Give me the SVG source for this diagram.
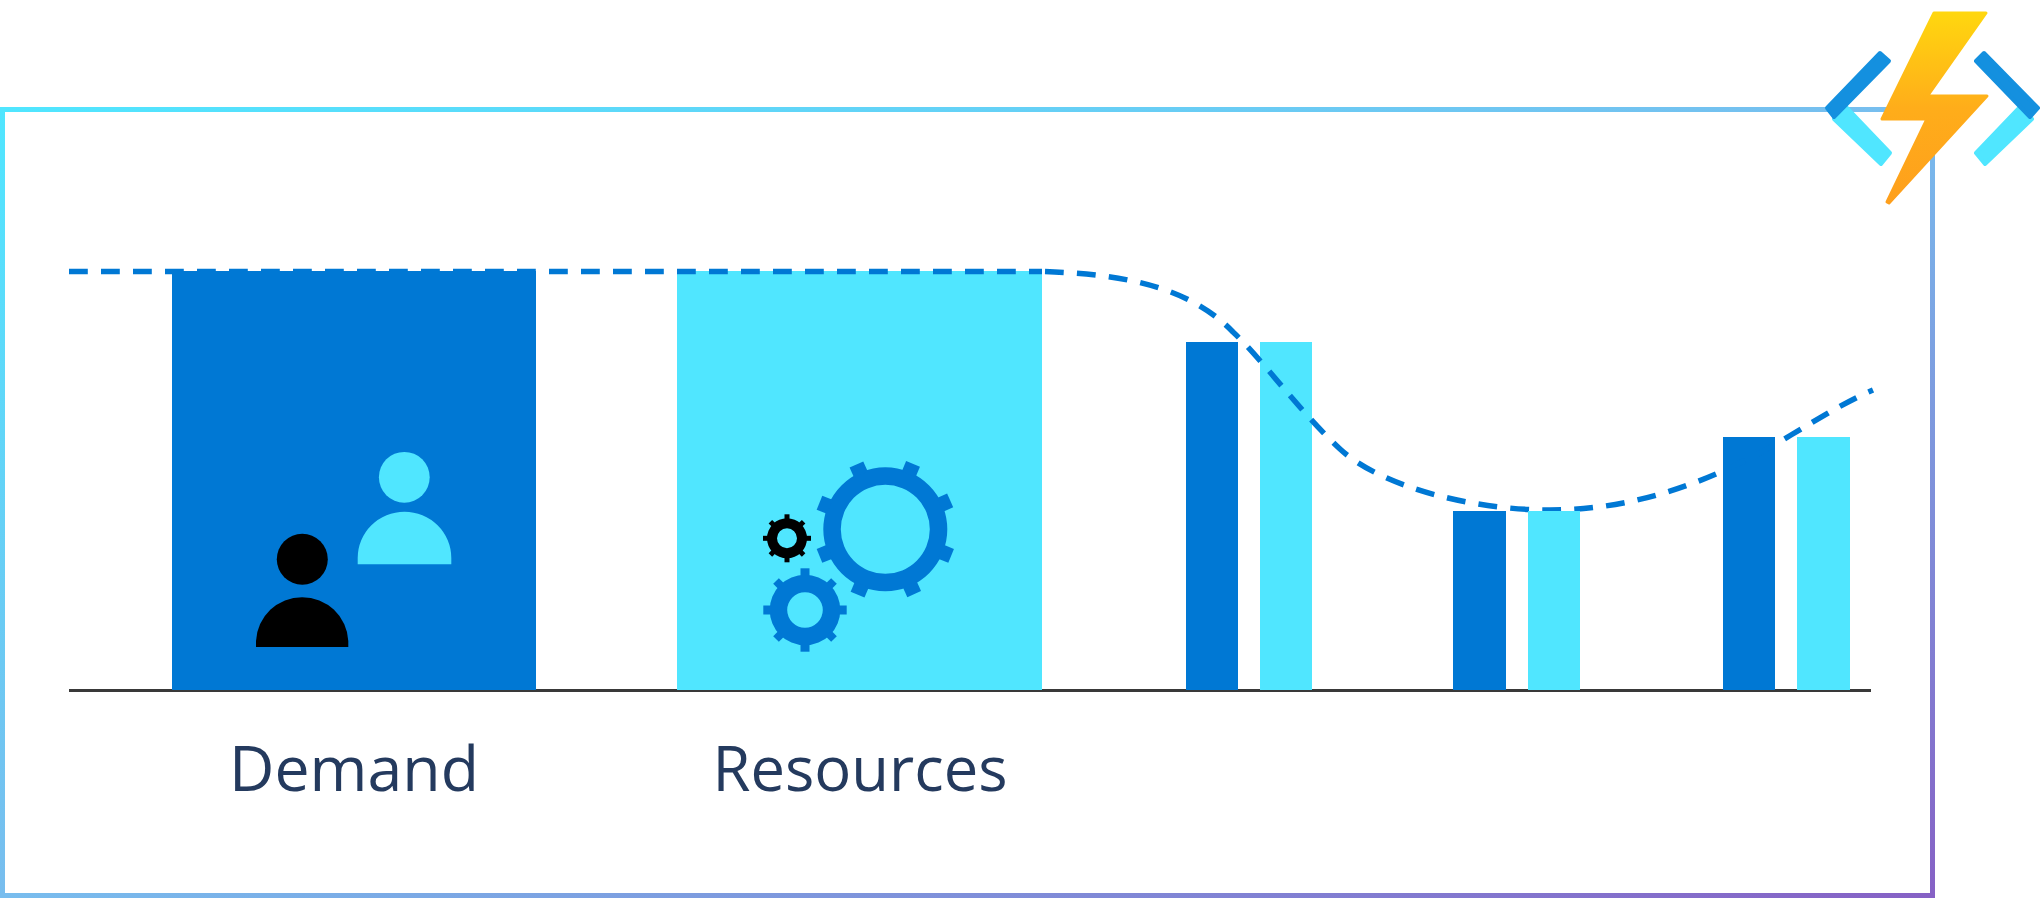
<svg xmlns="http://www.w3.org/2000/svg" width="2041" height="898" viewBox="0 0 2041 898">
<style>
.blue{fill:#0078D4}
.cyan{fill:#50E6FF}
.ring{fill:none}
.label{font-family:"Open Sans","Noto Sans","Liberation Sans",sans-serif;font-size:63px;fill:#243A5E;font-weight:400}
.dash{fill:none;stroke:#0078D4;stroke-width:5.5;stroke-dasharray:18.8 13.2}
</style>
<defs>
<linearGradient id="frameGrad" x1="0" y1="0" x2="1" y2="1">
<stop offset="0" stop-color="#50E6FF"/>
<stop offset="0.5" stop-color="#78BDEE"/>
<stop offset="1" stop-color="#8661C5"/>
</linearGradient>
<linearGradient id="boltGrad" gradientUnits="userSpaceOnUse" x1="1900" y1="12" x2="1900" y2="204">
<stop offset="0" stop-color="#FFD70F"/>
<stop offset="0.5" stop-color="#FFAD1A"/>
<stop offset="1" stop-color="#FE9F1C"/>
</linearGradient>
<g id="toothBig"><rect x="60" y="-7.5" width="11" height="15"/></g>
</defs>
<rect width="2041" height="898" fill="#fff"/>
<rect id="frame" x="2.5" y="109.5" width="1930" height="786" fill="none" stroke="url(#frameGrad)" stroke-width="5"/>
<rect id="axis" x="69" y="689" width="1802" height="3" fill="#393939"/>

<g id="demand">
<rect class="blue" x="172" y="271" width="364" height="419"/>
<g id="person-cyan" class="cyan">
<circle cx="404.3" cy="477.3" r="25.4"/>
<path d="M357.7 564.3V558A46.8 46.3 0 0 1 451.3 558V564.3Z"/>
</g>
<g id="person-black" fill="#000">
<circle cx="302.3" cy="559.3" r="25.5"/>
<path d="M256 647V641A46.2 46 0 0 1 348.3 641V647Z"/>
</g>
<text class="label" x="229" y="791" textLength="250" lengthAdjust="spacingAndGlyphs">Demand</text>
</g>

<g id="resources">
<rect class="cyan" x="677" y="271" width="365" height="419"/>
<g id="gear-large" class="blue" transform="translate(885.3 529.3)">
<path fill-rule="evenodd" d="M-62 0A62 62 0 1 1 62 0A62 62 0 1 1-62 0ZM-44.5 0A44.5 44.5 0 1 0 44.5 0A44.5 44.5 0 1 0-44.5 0Z"/>
<use href="#toothBig" transform="rotate(22)"/>
<use href="#toothBig" transform="rotate(66)"/>
<use href="#toothBig" transform="rotate(113)"/>
<use href="#toothBig" transform="rotate(158)"/>
<use href="#toothBig" transform="rotate(202)"/>
<use href="#toothBig" transform="rotate(246)"/>
<use href="#toothBig" transform="rotate(293)"/>
<use href="#toothBig" transform="rotate(336)"/>
</g>
<g id="gear-medium" class="blue" transform="translate(805 610)">
<path fill-rule="evenodd" d="M-35.3 0A35.3 35.3 0 1 1 35.3 0A35.3 35.3 0 1 1-35.3 0ZM-17.8 0A17.8 17.8 0 1 0 17.8 0A17.8 17.8 0 1 0-17.8 0Z"/>
<rect x="33" y="-4.5" width="8.7" height="9"/>
<rect x="-41.7" y="-4.5" width="8.7" height="9"/>
<rect x="-4.5" y="-41.7" width="9" height="8.7"/>
<rect x="-4.5" y="33" width="9" height="8.7"/>
<rect x="33" y="-4" width="8" height="8" transform="rotate(45)"/>
<rect x="33" y="-4" width="8" height="8" transform="rotate(135)"/>
<rect x="33" y="-4" width="8" height="8" transform="rotate(225)"/>
<rect x="33" y="-4" width="8" height="8" transform="rotate(315)"/>
</g>
<g id="gear-small" fill="#000" transform="translate(787 538.3)">
<path fill-rule="evenodd" d="M-20 0A20 20 0 1 1 20 0A20 20 0 1 1-20 0ZM-10 0A10 10 0 1 0 10 0A10 10 0 1 0-10 0Z"/>
<rect x="18" y="-2.5" width="6" height="5"/>
<rect x="-24" y="-2.5" width="6" height="5"/>
<rect x="-2.5" y="-24" width="5" height="6"/>
<rect x="-2.5" y="18" width="5" height="6"/>
<rect x="18" y="-2.5" width="5.5" height="5" transform="rotate(45)"/>
<rect x="18" y="-2.5" width="5.5" height="5" transform="rotate(135)"/>
<rect x="18" y="-2.5" width="5.5" height="5" transform="rotate(225)"/>
<rect x="18" y="-2.5" width="5.5" height="5" transform="rotate(315)"/>
</g>
<text class="label" x="712.5" y="791" textLength="295" lengthAdjust="spacingAndGlyphs">Resources</text>
</g>

<g id="bars-period-1">
<rect class="blue" x="1186" y="342" width="52" height="348"/>
<rect class="cyan" x="1260" y="342" width="52" height="348"/>
</g>
<g id="bars-period-3">
<rect class="blue" x="1723" y="437" width="52" height="253"/>
<rect class="cyan" x="1797" y="437" width="53" height="253"/>
</g>

<g id="connectors">
<path class="dash" d="M69 271.5H1042"/>
<path class="dash" stroke-linecap="butt" d="M1045 271.6C1110 274 1185 282 1233 332C1262 359 1300 412 1340 449C1380 486 1470 510 1550 510C1640 510 1720 478 1791 435C1820 418 1845 402 1873 390"/>
</g>

<g id="bars-period-2">
<rect class="blue" x="1453" y="511" width="53" height="179"/>
<rect class="cyan" x="1528" y="511" width="52" height="179"/>
</g>

<g id="functions-icon">
<g stroke-linejoin="round" stroke-width="4">
<path d="M1834 119L1846 107L1890 153L1881 164Z" fill="#50E6FF" stroke="#50E6FF"/>
<path d="M2032 119L2020 107L1976 153L1985 164Z" fill="#50E6FF" stroke="#50E6FF"/>
<path d="M1880 53L1889 61L1834 117L1827 108Z" fill="#1490DF" stroke="#1490DF"/>
<path d="M1984 53L1976 61L2030 117L2038 108Z" fill="#1490DF" stroke="#1490DF"/>
</g>
<path d="M1934 13H1986L1927.500 96H1987L1889 203L1887 202L1927 119H1882L1934 13Z" fill="url(#boltGrad)" stroke="url(#boltGrad)" stroke-width="3" stroke-linejoin="round"/>
</g>
</svg>
